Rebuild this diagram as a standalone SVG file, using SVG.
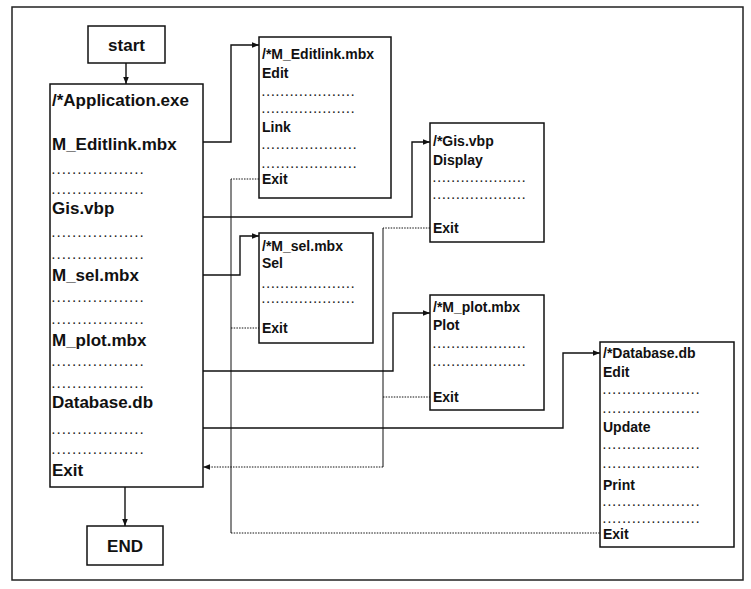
<svg xmlns="http://www.w3.org/2000/svg" width="751" height="589" viewBox="0 0 751 589">
<defs>
<style>
.bg{fill:#fff}
.frame{fill:none;stroke:#222;stroke-width:1.5}
.box{fill:#fff;stroke:#111;stroke-width:1.5}
.t{font-family:"Liberation Sans",Arial,sans-serif;font-weight:bold;fill:#111}
.big{font-size:17px}
.sm{font-size:14px}
.dots{font-family:"Liberation Sans",Arial,sans-serif;font-weight:bold;font-size:10px;fill:#222}
.conn{fill:none;stroke:#111;stroke-width:1.4}
.ret{fill:none;stroke:#111;stroke-width:1}
.dot{fill:none;stroke:#111;stroke-width:1;stroke-dasharray:1.5 1.2}
</style>
<marker id="ah" viewBox="0 0 10 10" refX="10" refY="5" markerWidth="7" markerHeight="7" orient="auto" markerUnits="userSpaceOnUse">
<path d="M0,1 L10,5 L0,9 z" fill="#111"/>
</marker>
</defs>
<rect class="bg" x="0" y="0" width="751" height="589"/>
<rect class="frame" x="12" y="7" width="731" height="573"/>

<g id="connectors">
<line class="conn" x1="126" y1="63" x2="126" y2="84" marker-end="url(#ah)"/>
<line class="conn" x1="125" y1="487" x2="125" y2="526" marker-end="url(#ah)"/>
<polyline class="conn" points="203,142 231,142 231,45 259,45" marker-end="url(#ah)"/>
<polyline class="conn" points="203,217 412,217 412,142 430,142" marker-end="url(#ah)"/>
<polyline class="conn" points="203,275 240,275 240,236 259,236" marker-end="url(#ah)"/>
<polyline class="conn" points="203,371 393,371 393,313 430,313" marker-end="url(#ah)"/>
<polyline class="conn" points="203,428 563,428 563,353 600,353" marker-end="url(#ah)"/>
<line class="dot" x1="259" y1="179" x2="231" y2="179"/>
<line class="ret" x1="231" y1="179" x2="231" y2="533"/>
<line class="dot" x1="231" y1="533" x2="600" y2="533"/>
<line class="dot" x1="231" y1="328" x2="259" y2="328"/>
<line class="dot" x1="430" y1="228" x2="383" y2="228"/>
<line class="ret" x1="383" y1="228" x2="383" y2="467"/>
<line class="dot" x1="383" y1="467" x2="203" y2="467" marker-end="url(#ah)"/>
<line class="dot" x1="383" y1="397" x2="430" y2="397"/>
</g>

<g id="start">
<rect class="box" x="88" y="26" width="77" height="37"/>
<text class="t big" x="126.5" y="51" text-anchor="middle">start</text>
</g>

<g id="end">
<rect class="box" x="87" y="526" width="76" height="39"/>
<text class="t big" x="125" y="552" text-anchor="middle">END</text>
</g>

<g id="application">
<rect class="box" x="50" y="84" width="153" height="403"/>
<text class="t big" x="52" y="106">/*Application.exe</text>
<text class="t big" x="52" y="150">M_Editlink.mbx</text>
<text class="dots" x="52" y="174" textLength="91">..................</text>
<text class="dots" x="52" y="194" textLength="91">..................</text>
<text class="t big" x="52" y="214">Gis.vbp</text>
<text class="dots" x="52" y="237" textLength="91">..................</text>
<text class="dots" x="52" y="259" textLength="91">..................</text>
<text class="t big" x="52" y="281">M_sel.mbx</text>
<text class="dots" x="52" y="302" textLength="91">..................</text>
<text class="dots" x="52" y="324" textLength="91">..................</text>
<text class="t big" x="52" y="346">M_plot.mbx</text>
<text class="dots" x="52" y="366" textLength="91">..................</text>
<text class="dots" x="52" y="388" textLength="91">..................</text>
<text class="t big" x="52" y="408">Database.db</text>
<text class="dots" x="52" y="434" textLength="91">..................</text>
<text class="dots" x="52" y="454" textLength="91">..................</text>
<text class="t big" x="52" y="476">Exit</text>
</g>

<g id="editlink">
<rect class="box" x="259" y="37" width="132" height="161"/>
<text class="t sm" x="262" y="59">/*M_Editlink.mbx</text>
<text class="t sm" x="262" y="78">Edit</text>
<text class="dots" x="262" y="96" textLength="92">....................</text>
<text class="dots" x="262" y="113" textLength="92">....................</text>
<text class="t sm" x="262" y="132">Link</text>
<text class="dots" x="262" y="149" textLength="94">....................</text>
<text class="dots" x="262" y="168" textLength="94">....................</text>
<text class="t sm" x="262" y="184">Exit</text>
</g>

<g id="gis">
<rect class="box" x="430" y="123" width="114" height="119"/>
<text class="t sm" x="433" y="146">/*Gis.vbp</text>
<text class="t sm" x="433" y="165">Display</text>
<text class="dots" x="433" y="182" textLength="92">....................</text>
<text class="dots" x="433" y="199" textLength="92">....................</text>
<text class="t sm" x="433" y="233">Exit</text>
</g>

<g id="sel">
<rect class="box" x="259" y="233" width="114" height="110"/>
<text class="t sm" x="262" y="251">/*M_sel.mbx</text>
<text class="t sm" x="262" y="268">Sel</text>
<text class="dots" x="262" y="288" textLength="92">....................</text>
<text class="dots" x="262" y="303" textLength="92">....................</text>
<text class="t sm" x="262" y="333">Exit</text>
</g>

<g id="plot">
<rect class="box" x="430" y="295" width="114" height="115"/>
<text class="t sm" x="433" y="312">/*M_plot.mbx</text>
<text class="t sm" x="433" y="330">Plot</text>
<text class="dots" x="433" y="348" textLength="92">....................</text>
<text class="dots" x="433" y="366" textLength="92">....................</text>
<text class="t sm" x="433" y="402">Exit</text>
</g>

<g id="database">
<rect class="box" x="600" y="342" width="134" height="205"/>
<text class="t sm" x="603" y="358">/*Database.db</text>
<text class="t sm" x="603" y="377">Edit</text>
<text class="dots" x="603" y="394" textLength="96">....................</text>
<text class="dots" x="603" y="413" textLength="96">....................</text>
<text class="t sm" x="603" y="432">Update</text>
<text class="dots" x="603" y="449" textLength="96">....................</text>
<text class="dots" x="603" y="468" textLength="96">....................</text>
<text class="t sm" x="603" y="490">Print</text>
<text class="dots" x="603" y="506" textLength="96">....................</text>
<text class="dots" x="603" y="523" textLength="96">....................</text>
<text class="t sm" x="603" y="539">Exit</text>
</g>
</svg>
